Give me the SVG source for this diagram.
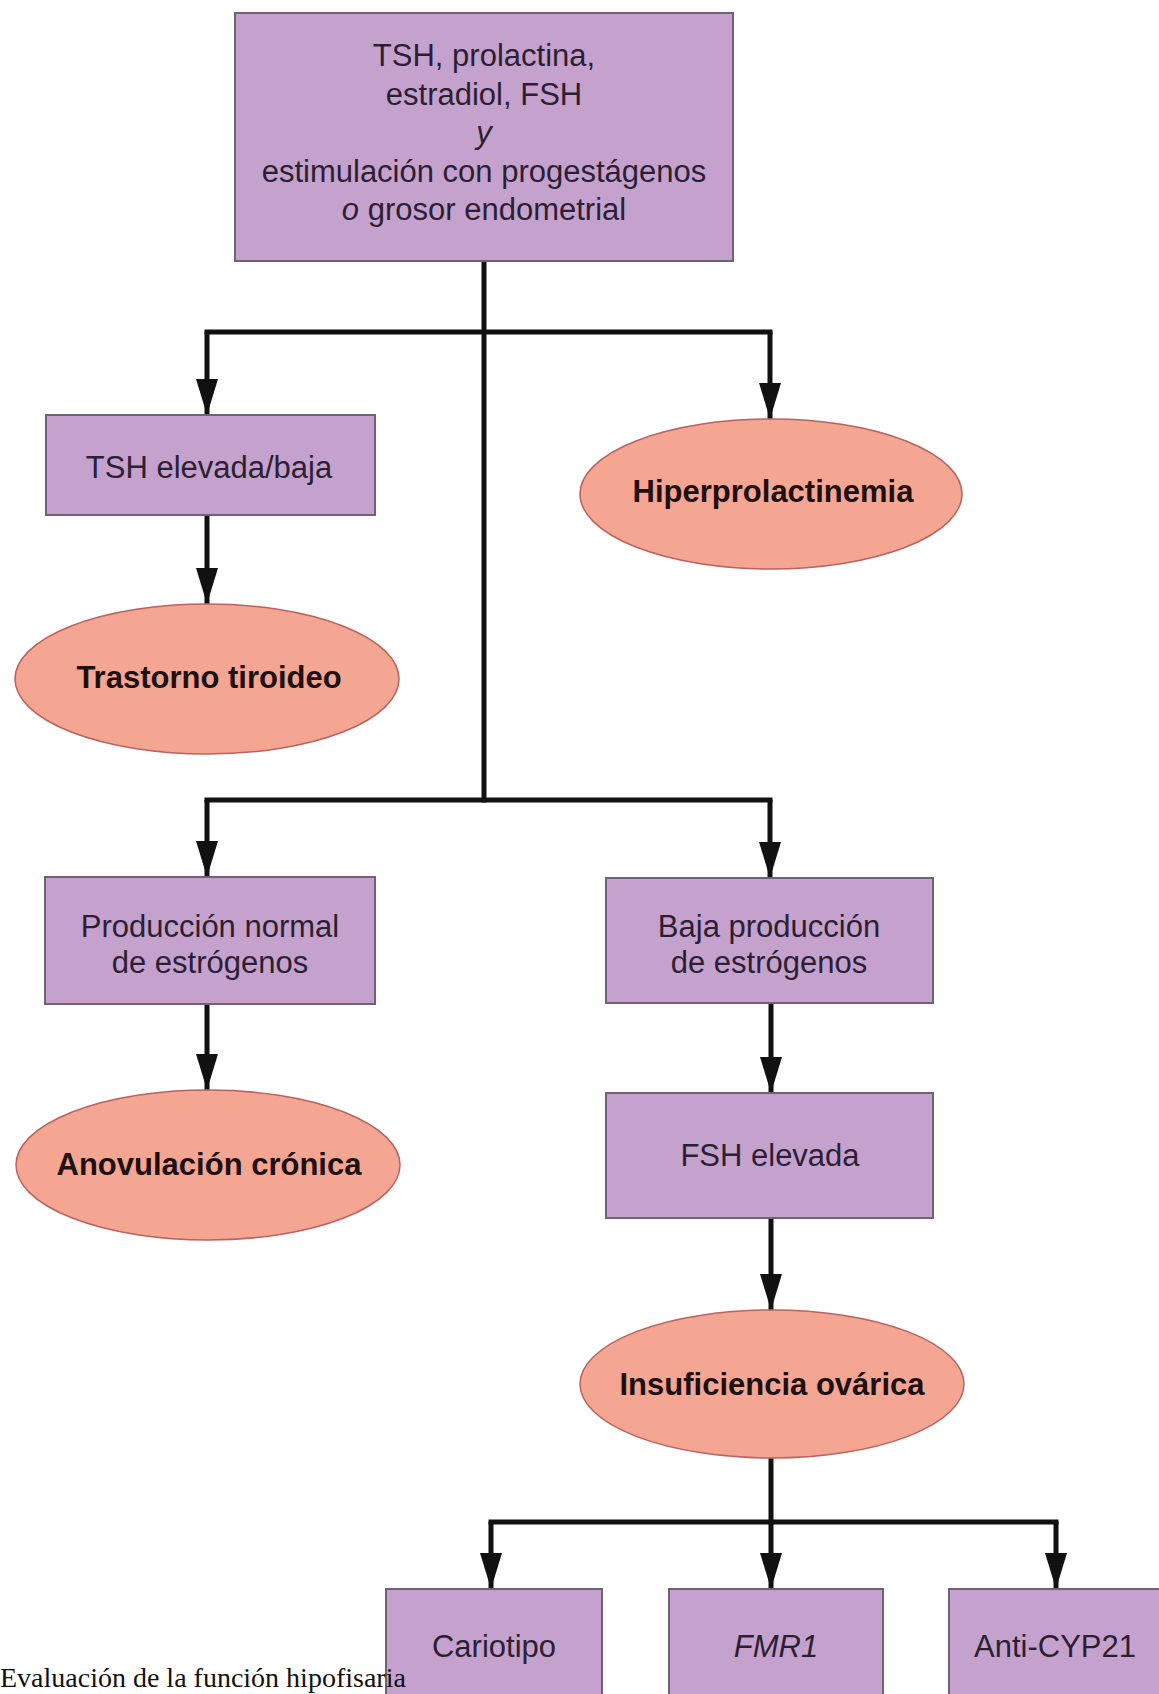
<svg xmlns="http://www.w3.org/2000/svg" width="1159" height="1694" viewBox="0 0 1159 1694">
<defs>
<style>
.box{fill:#C4A2CD;stroke:#6e6274;stroke-width:2}
.ell{fill:#F4A692;stroke:#b9625e;stroke-width:1.5}
.t{font-family:"Liberation Sans",Arial,sans-serif;font-size:31px;fill:#2c1f33;text-anchor:middle}
.b{font-family:"Liberation Sans",Arial,sans-serif;font-size:31px;font-weight:bold;fill:#1e0f10;text-anchor:middle}
.ln{fill:none;stroke:#111;stroke-width:5;stroke-linecap:square}
.ar{fill:none;stroke:#111;stroke-width:5;marker-end:url(#ah)}
.cap{font-family:"Liberation Serif","Times New Roman",serif;font-size:28px;fill:#111}
</style>
<marker id="ah" markerUnits="userSpaceOnUse" viewBox="0 0 36 22" refX="36" refY="11" markerWidth="36" markerHeight="22" orient="auto">
<path d="M0,0 L36,11 L0,22 z" fill="#111"/>
</marker>
</defs>
<rect width="1159" height="1694" fill="#fff"/>

<g id="connectors">
<path class="ln" d="M484,261 V800"/>
<path class="ln" d="M207,332 H770"/>
<path class="ar" d="M207,332 V415"/>
<path class="ar" d="M770,332 V419"/>
<path class="ar" d="M207,515 V604"/>
<path class="ln" d="M207,800 H770"/>
<path class="ar" d="M207,800 V877"/>
<path class="ar" d="M770,800 V878"/>
<path class="ar" d="M207,1004 V1090"/>
<path class="ar" d="M771,1003 V1093"/>
<path class="ar" d="M771,1218 V1310"/>
<path class="ln" d="M771,1458 V1522"/>
<path class="ln" d="M491,1522 H1056"/>
<path class="ar" d="M491,1522 V1589"/>
<path class="ar" d="M771,1522 V1589"/>
<path class="ar" d="M1056,1522 V1589"/>
</g>

<g id="n-top">
<rect class="box" x="235" y="13" width="498" height="248"/>
<text class="t" x="484" y="66">TSH, prolactina,</text>
<text class="t" x="484" y="104.5">estradiol, FSH</text>
<text class="t" x="484" y="143" font-style="italic">y</text>
<text class="t" x="484" y="181.5">estimulación con progestágenos</text>
<text class="t" x="484" y="220"><tspan font-style="italic">o</tspan> grosor endometrial</text>
</g>

<g id="n-tsh">
<rect class="box" x="46" y="415" width="329" height="100"/>
<text class="t" x="209" y="478">TSH elevada/baja</text>
</g>

<g id="n-trastorno">
<ellipse class="ell" cx="207" cy="679" rx="192" ry="75"/>
<text class="b" x="209" y="688">Trastorno tiroideo</text>
</g>

<g id="n-hiper">
<ellipse class="ell" cx="771" cy="494" rx="191" ry="75"/>
<text class="b" x="773" y="502">Hiperprolactinemia</text>
</g>

<g id="n-normal">
<rect class="box" x="45" y="877" width="330" height="127"/>
<text class="t" x="210" y="937">Producción normal</text>
<text class="t" x="210" y="973">de estrógenos</text>
</g>

<g id="n-anov">
<ellipse class="ell" cx="208" cy="1165" rx="192" ry="75"/>
<text class="b" x="209" y="1175">Anovulación crónica</text>
</g>

<g id="n-baja">
<rect class="box" x="606" y="878" width="327" height="125"/>
<text class="t" x="769" y="937">Baja producción</text>
<text class="t" x="769" y="973">de estrógenos</text>
</g>

<g id="n-fsh">
<rect class="box" x="606" y="1093" width="327" height="125"/>
<text class="t" x="770" y="1166">FSH elevada</text>
</g>

<g id="n-insuf">
<ellipse class="ell" cx="772" cy="1384" rx="192" ry="74"/>
<text class="b" x="772" y="1395">Insuficiencia ovárica</text>
</g>

<g id="n-cariotipo">
<rect class="box" x="386" y="1589" width="216" height="130"/>
<text class="t" x="494" y="1657">Cariotipo</text>
</g>

<g id="n-fmr1">
<rect class="box" x="669" y="1589" width="214" height="130"/>
<text class="t" x="776" y="1657" font-style="italic">FMR1</text>
</g>

<g id="n-cyp21">
<rect class="box" x="949" y="1589" width="214" height="130"/>
<text class="t" x="1055" y="1657">Anti-CYP21</text>
</g>

<text class="cap" x="0" y="1687">Evaluación de la función hipofisaria</text>
</svg>
